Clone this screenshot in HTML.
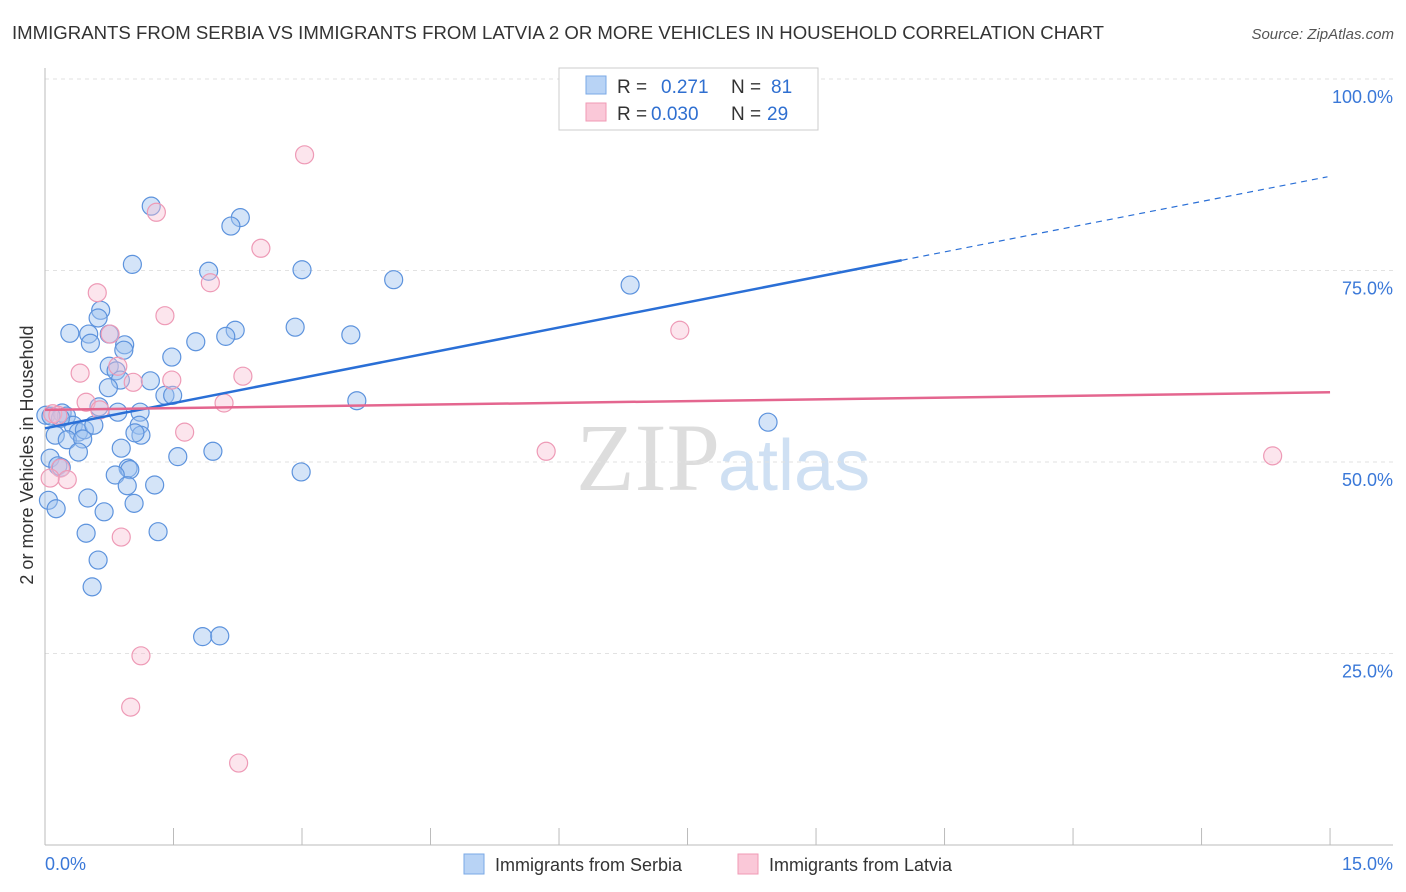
<!DOCTYPE html>
<html><head><meta charset="utf-8"><style>
body{margin:0;background:#fff;font-family:"Liberation Sans",sans-serif;}
svg{display:block}
</style></head><body>
<svg id="c" width="1406" height="892">
<text x="12" y="39" font-size="18.6" fill="#333">IMMIGRANTS FROM SERBIA VS IMMIGRANTS FROM LATVIA 2 OR MORE VEHICLES IN HOUSEHOLD CORRELATION CHART</text>
<text x="1394" y="39" font-size="15" fill="#555" font-style="italic" text-anchor="end">Source: ZipAtlas.com</text>
<text x="720" y="490" font-size="96" fill="#ddd" font-family="Liberation Serif,serif" text-anchor="end">ZIP</text>
<text x="718" y="490" font-size="72" fill="#cfe0f3">atlas</text>
<g id="grid"></g><g id="marks"></g>
<text transform="translate(33,455) rotate(-90)" font-size="18" fill="#333" text-anchor="middle">2 or more Vehicles in Household</text>
<g>
<rect x="559" y="68" width="259" height="62" fill="#fff" stroke="#ccc"/>
<rect x="586" y="76" width="20" height="18" fill="#b8d3f5" stroke="#7aa8e6"/>
<rect x="586" y="103" width="20" height="18" fill="#fac8d8" stroke="#f09ab5"/>
<text x="617" y="93" font-size="19" fill="#333">R = </text><text x="661" y="93" font-size="19" fill="#2f6fd0">0.271</text>
<text x="731" y="93" font-size="19" fill="#333">N = </text><text x="771" y="93" font-size="19" fill="#2f6fd0">81</text>
<text x="617" y="120" font-size="19" fill="#333">R = </text><text x="651" y="120" font-size="19" fill="#2f6fd0">0.030</text>
<text x="731" y="120" font-size="19" fill="#333">N = </text><text x="767" y="120" font-size="19" fill="#2f6fd0">29</text>
</g>
<g>
<rect x="464" y="854" width="20" height="20" fill="#b8d3f5" stroke="#7aa8e6"/>
<text x="495" y="871" font-size="18" fill="#333">Immigrants from Serbia</text>
<rect x="738" y="854" width="20" height="20" fill="#fac8d8" stroke="#f09ab5"/>
<text x="769" y="871" font-size="18" fill="#333">Immigrants from Latvia</text>
</g>
</svg>
<script>
const serbiaX=[1.24,2.28,2.17,1.02,1.91,3.00,4.07,6.83,0.65,0.62,0.29,0.51,0.75,2.92,2.22,2.11,3.57,1.76,0.93,0.53,0.92,1.48,0.75,0.83,0.88,1.23,0.74,1.40,1.49,3.64,8.44,0.01,0.20,0.25,0.33,0.63,0.39,0.46,0.85,1.11,1.10,1.12,1.05,0.12,0.26,0.44,0.57,0.89,0.06,0.39,1.55,1.96,0.15,0.19,0.97,0.99,2.99,0.82,0.96,1.28,0.50,1.04,0.04,0.13,0.69,0.48,1.32,0.62,0.55,1.84,2.04,0.18,0.07];
const serbiaY=[83.4,81.9,80.8,75.8,74.9,75.1,73.8,73.1,69.8,68.8,66.8,66.7,66.7,67.6,67.2,66.4,66.6,65.7,65.3,65.5,64.6,63.7,62.5,61.9,60.7,60.6,59.7,58.7,58.7,58.0,55.2,56.1,56.4,56.0,54.8,57.2,53.9,54.2,56.5,56.5,54.8,53.5,53.8,53.5,52.9,53.0,54.8,51.8,50.5,51.3,50.7,51.4,49.5,49.3,49.2,49.0,48.7,48.3,46.9,47.0,45.3,44.6,45.0,43.9,43.5,40.7,40.9,37.2,33.7,27.2,27.3,55.7,56.0];
const latviaX=[3.03,1.30,2.52,0.61,1.93,1.40,0.76,0.41,1.03,1.48,2.31,0.85,0.09,0.48,0.64,1.63,2.09,7.41,5.85,14.33,0.18,0.26,0.06,0.89,1.12,1.00,2.26,0.15];
const latviaY=[90.1,82.6,77.9,72.1,73.4,69.1,66.7,61.6,60.4,60.7,61.2,62.5,56.3,57.8,56.8,53.9,57.7,67.2,51.4,50.8,49.2,47.7,47.9,40.2,24.7,18.0,10.7,56.1];
const serbiaTrend=[54.4,87.3];
const latviaTrend=[56.8,59.1];
const yTicks=[25,50,75,100];
const yTickLabels=["25.0%","50.0%","75.0%","100.0%"];
const xTicks=[0,1.5,3,4.5,6,7.5,9,10.5,12,13.5,15];
const xLabels=["0.0%","15.0%"];
const NS="http://www.w3.org/2000/svg";
const sx=v=>45+v*85.67, sy=v=>845-v*7.66;
function mk(p,t,a){const e=document.createElementNS(NS,t);for(const k in a)e.setAttribute(k,a[k]);p.appendChild(e);return e;}
const g=document.getElementById('grid'), m=document.getElementById('marks');
yTicks.forEach((v,i)=>{
 const l=mk(g,'line',{x1:45,x2:1393,y1:sy(v),y2:sy(v),stroke:'#e2e2e2','stroke-dasharray':'4,4'});
 
 
 const t=mk(g,'text',{x:1393,y:sy(v)+24,'font-size':18,fill:'#3a78d8','text-anchor':'end'});t.textContent=yTickLabels[i];
 
 
});
const topGrid=mk(g,'line',{x1:45,x2:1393,y1:79,y2:79,stroke:'#e2e2e2','stroke-dasharray':'4,4'});


const ax=mk(g,'line',{x1:45,x2:45,y1:68,y2:845,stroke:'#bbb'});


const bx=mk(g,'line',{x1:45,x2:1393,y1:845,y2:845,stroke:'#bbb'});


xTicks.forEach(v=>{const t=mk(g,'line',{x1:sx(v),x2:sx(v),y1:828,y2:845,stroke:'#bbb'});
 
 });
const xl0=mk(g,'text',{x:45,y:870,'font-size':18,fill:'#3a78d8'});xl0.textContent=xLabels[0];


const xl1=mk(g,'text',{x:1393,y:870,'font-size':18,fill:'#3a78d8','text-anchor':'end'});xl1.textContent=xLabels[1];


serbiaX.forEach((x,i)=>{const c=mk(m,'circle',{cx:sx(x),cy:sy(serbiaY[i]),r:9,fill:'rgba(160,196,240,0.45)',stroke:'#5d93dd','stroke-width':1.2});
 
 });
latviaX.forEach((x,i)=>{const c=mk(m,'circle',{cx:sx(x),cy:sy(latviaY[i]),r:9,fill:'rgba(248,190,210,0.4)',stroke:'#ee9ab6','stroke-width':1.2});
 
 });
const bAt=x=>serbiaTrend[0]+(serbiaTrend[1]-serbiaTrend[0])*x/15;
const b1=mk(m,'line',{x1:sx(0),y1:sy(bAt(0)),x2:sx(10),y2:sy(bAt(10)),stroke:'#2a6fd6','stroke-width':2.5});


const b2=mk(m,'line',{x1:sx(10),y1:sy(bAt(10)),x2:sx(14.97),y2:sy(bAt(14.97)),stroke:'#2a6fd6','stroke-width':1.2,'stroke-dasharray':'6,5'});


const p1=mk(m,'line',{x1:sx(0),y1:sy(latviaTrend[0]),x2:sx(15),y2:sy(latviaTrend[1]),stroke:'#e4668f','stroke-width':2.5});


</script>
</body></html>
